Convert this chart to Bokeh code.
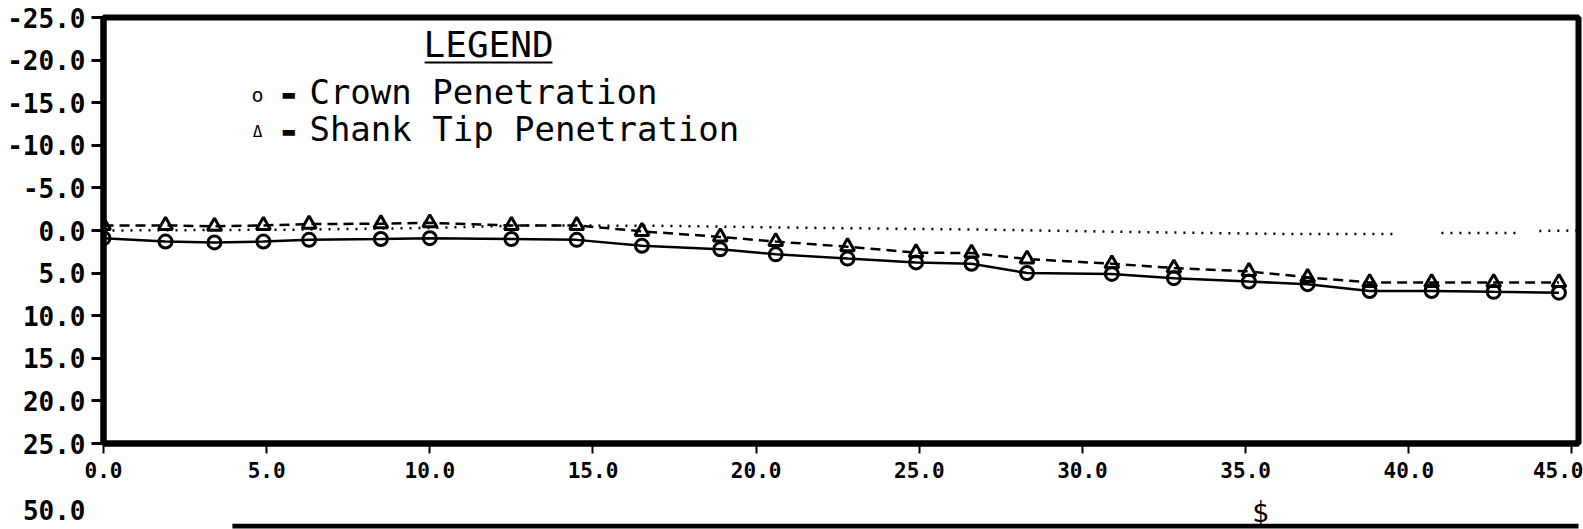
import math
from bokeh.plotting import figure
from bokeh.layouts import column
from bokeh.models import Range1d, FixedTicker, Label, BoxAnnotation
from bokeh.embed import file_html
from bokeh.resources import INLINE

# ---- data ----
distance = [0.0, 1.9, 3.4, 4.9, 6.3, 8.5, 10.0, 12.5, 14.5, 16.5, 18.9, 20.6,
            22.8, 24.9, 26.6, 28.3, 30.9, 32.8, 35.1, 36.9, 38.8, 40.7, 42.6, 44.6]
crown_pen = [0.9, 1.3, 1.4, 1.3, 1.1, 1.0, 0.9, 1.0, 1.1, 1.8, 2.2, 2.8,
             3.3, 3.75, 3.9, 5.0, 5.1, 5.6, 6.0, 6.3, 7.1, 7.1, 7.2, 7.3]
shank_pen = [-0.6, -0.6, -0.5, -0.6, -0.75, -0.8, -0.9, -0.6, -0.6, 0.1, 0.75, 1.3,
             1.9, 2.6, 2.65, 3.35, 3.9, 4.4, 4.8, 5.5, 6.1, 6.1, 6.1, 6.1]
ref_x = [0.0, 6.0, 10.0, 13.0, 17.0, 22.0, 27.0, 32.0, 36.0, 39.6, math.nan,
         41.0, 43.3, math.nan, 44.0, 45.2]
ref_y = [0.0, -0.1, -0.3, -0.6, -0.55, -0.3, -0.1, 0.2, 0.4, 0.4, math.nan,
         0.3, 0.3, math.nan, 0.05, 0.0]

x_ticks = [0, 5, 10, 15, 20, 25, 30, 35, 40, 45]
x_tick_labels = ["0.0", "5.0", "10.0", "15.0", "20.0", "25.0", "30.0", "35.0", "40.0", "45.0"]
y_ticks = [-25, -20, -15, -10, -5, 0, 5, 10, 15, 20, 25]
y_tick_labels = ["-25.0", "-20.0", "-15.0", "-10.0", "-5.0", "0.0", "5.0", "10.0",
                 "15.0", "20.0", "25.0"]

legend_title = "LEGEND"
legend_symbols = ["o", "\u0394"]
legend_items = ["Crown Penetration", "Shank Tip Penetration"]
x_title = "$"
next_plot_ticks = [40]
next_plot_labels = ["50.0"]

MONO = "DejaVu Sans Mono"
W = 1583

# ---------------- main panel ----------------
p = figure(width=W, height=490, output_backend="svg", toolbar_location=None,
           x_range=Range1d(0, 45.2), y_range=Range1d(25, -25),
           min_border_left=103, min_border_right=5, min_border_top=17, min_border_bottom=47)
p.background_fill_color = "white"
p.border_fill_color = "white"
p.outline_line_color = "black"
p.outline_line_width = 6
p.xgrid.grid_line_color = None
p.ygrid.grid_line_color = None

for ax in (p.xaxis[0], p.yaxis[0]):
    ax.axis_line_color = "black"
    ax.axis_line_width = 6
    ax.major_tick_line_color = "black"
    ax.major_tick_in = 0
    ax.minor_tick_line_color = None
    ax.major_label_text_font = MONO
    ax.major_label_text_font_style = "bold"
    ax.major_label_text_color = "black"

p.xaxis.ticker = FixedTicker(ticks=x_ticks)
p.xaxis.major_label_overrides = {t_: s for t_, s in zip(x_ticks, x_tick_labels)}
p.xaxis.major_tick_out = 10
p.xaxis.major_tick_line_width = 2
p.xaxis.major_label_standoff = 8
p.xaxis.major_label_text_font_size = "21px"

p.yaxis.ticker = FixedTicker(ticks=y_ticks)
p.yaxis.major_label_overrides = {t_: s for t_, s in zip(y_ticks, y_tick_labels)}
p.yaxis.major_tick_out = 12
p.yaxis.major_tick_line_width = 3
p.yaxis.major_label_standoff = 6
p.yaxis.major_label_text_font_size = "26px"

# reference (dotted) line
p.line(ref_x, ref_y, line_color="black", line_width=2.5, line_dash="2 7")
# shank tip penetration (dashed + triangles)
p.line(distance, shank_pen, line_color="black", line_width=2.5, line_dash="10 6")
p.scatter(distance, shank_pen, marker="triangle", size=14, fill_color=None,
          line_color="black", line_width=3)
# crown penetration (solid + circles)
p.line(distance, crown_pen, line_color="black", line_width=2.5)
p.scatter(distance, crown_pen, marker="circle", size=13, fill_color=None,
          line_color="black", line_width=3)

# legend block drawn as text
p.add_layout(Label(x=11.8, y=-21.83, text=legend_title, text_align="center",
                   text_baseline="middle", text_font=MONO, text_font_size="36px",
                   text_color="black"))
p.add_layout(BoxAnnotation(left=9.84, right=13.76, top=-19.84, bottom=-19.6,
                           fill_color="black", fill_alpha=1, line_color=None))
sym_sizes = ["20px", "16px"]
for sym, ssz, txt, yc, ys in zip(legend_symbols, sym_sizes, legend_items,
                                 [-16.26, -11.97], [-15.96, -11.62]):
    p.add_layout(Label(x=4.72, y=ys, text=sym, text_align="center",
                       text_baseline="middle", text_font=MONO,
                       text_font_size=ssz, text_color="black"))
    p.add_layout(Label(x=5.67, y=ys, text="\u25ac", text_align="center",
                       text_baseline="middle", text_font="DejaVu Sans",
                       text_font_size="16px", text_color="black"))
    p.add_layout(Label(x=6.31, y=yc, text=txt, text_align="left",
                       text_baseline="middle", text_font=MONO,
                       text_font_size="34px", text_color="black"))

# ---------------- strip below: axis title and top edge of the next panel ----------------
q = figure(width=W, height=39, output_backend="svg", toolbar_location=None,
           x_range=p.x_range, y_range=Range1d(40, 0), x_axis_type=None,
           min_border_left=103, min_border_right=5, min_border_top=0, min_border_bottom=0)
q.outline_line_color = None
q.background_fill_color = "white"
q.border_fill_color = "white"
q.xgrid.grid_line_color = None
q.ygrid.grid_line_color = None
qy = q.yaxis[0]
qy.ticker = FixedTicker(ticks=next_plot_ticks)
qy.major_label_overrides = {t_: s for t_, s in zip(next_plot_ticks, next_plot_labels)}
qy.axis_line_color = None
qy.major_tick_line_color = None
qy.minor_tick_line_color = None
qy.major_tick_out = 0
qy.major_tick_in = 0
qy.major_label_standoff = 18
qy.major_label_text_font = MONO
qy.major_label_text_font_style = "bold"
qy.major_label_text_font_size = "26px"
qy.major_label_text_color = "black"

q.add_layout(Label(x=35.45, y=23, text=x_title, text_align="center",
                   text_baseline="middle", text_font=MONO, text_font_size="28px",
                   text_color="black"))
q.add_layout(BoxAnnotation(left=3.95, right=46, top=34, bottom=39,
                           fill_color="black", fill_alpha=1, line_color=None))

layout = column(p, q, spacing=0)
open("out.html", "w").write(file_html(layout, INLINE))
